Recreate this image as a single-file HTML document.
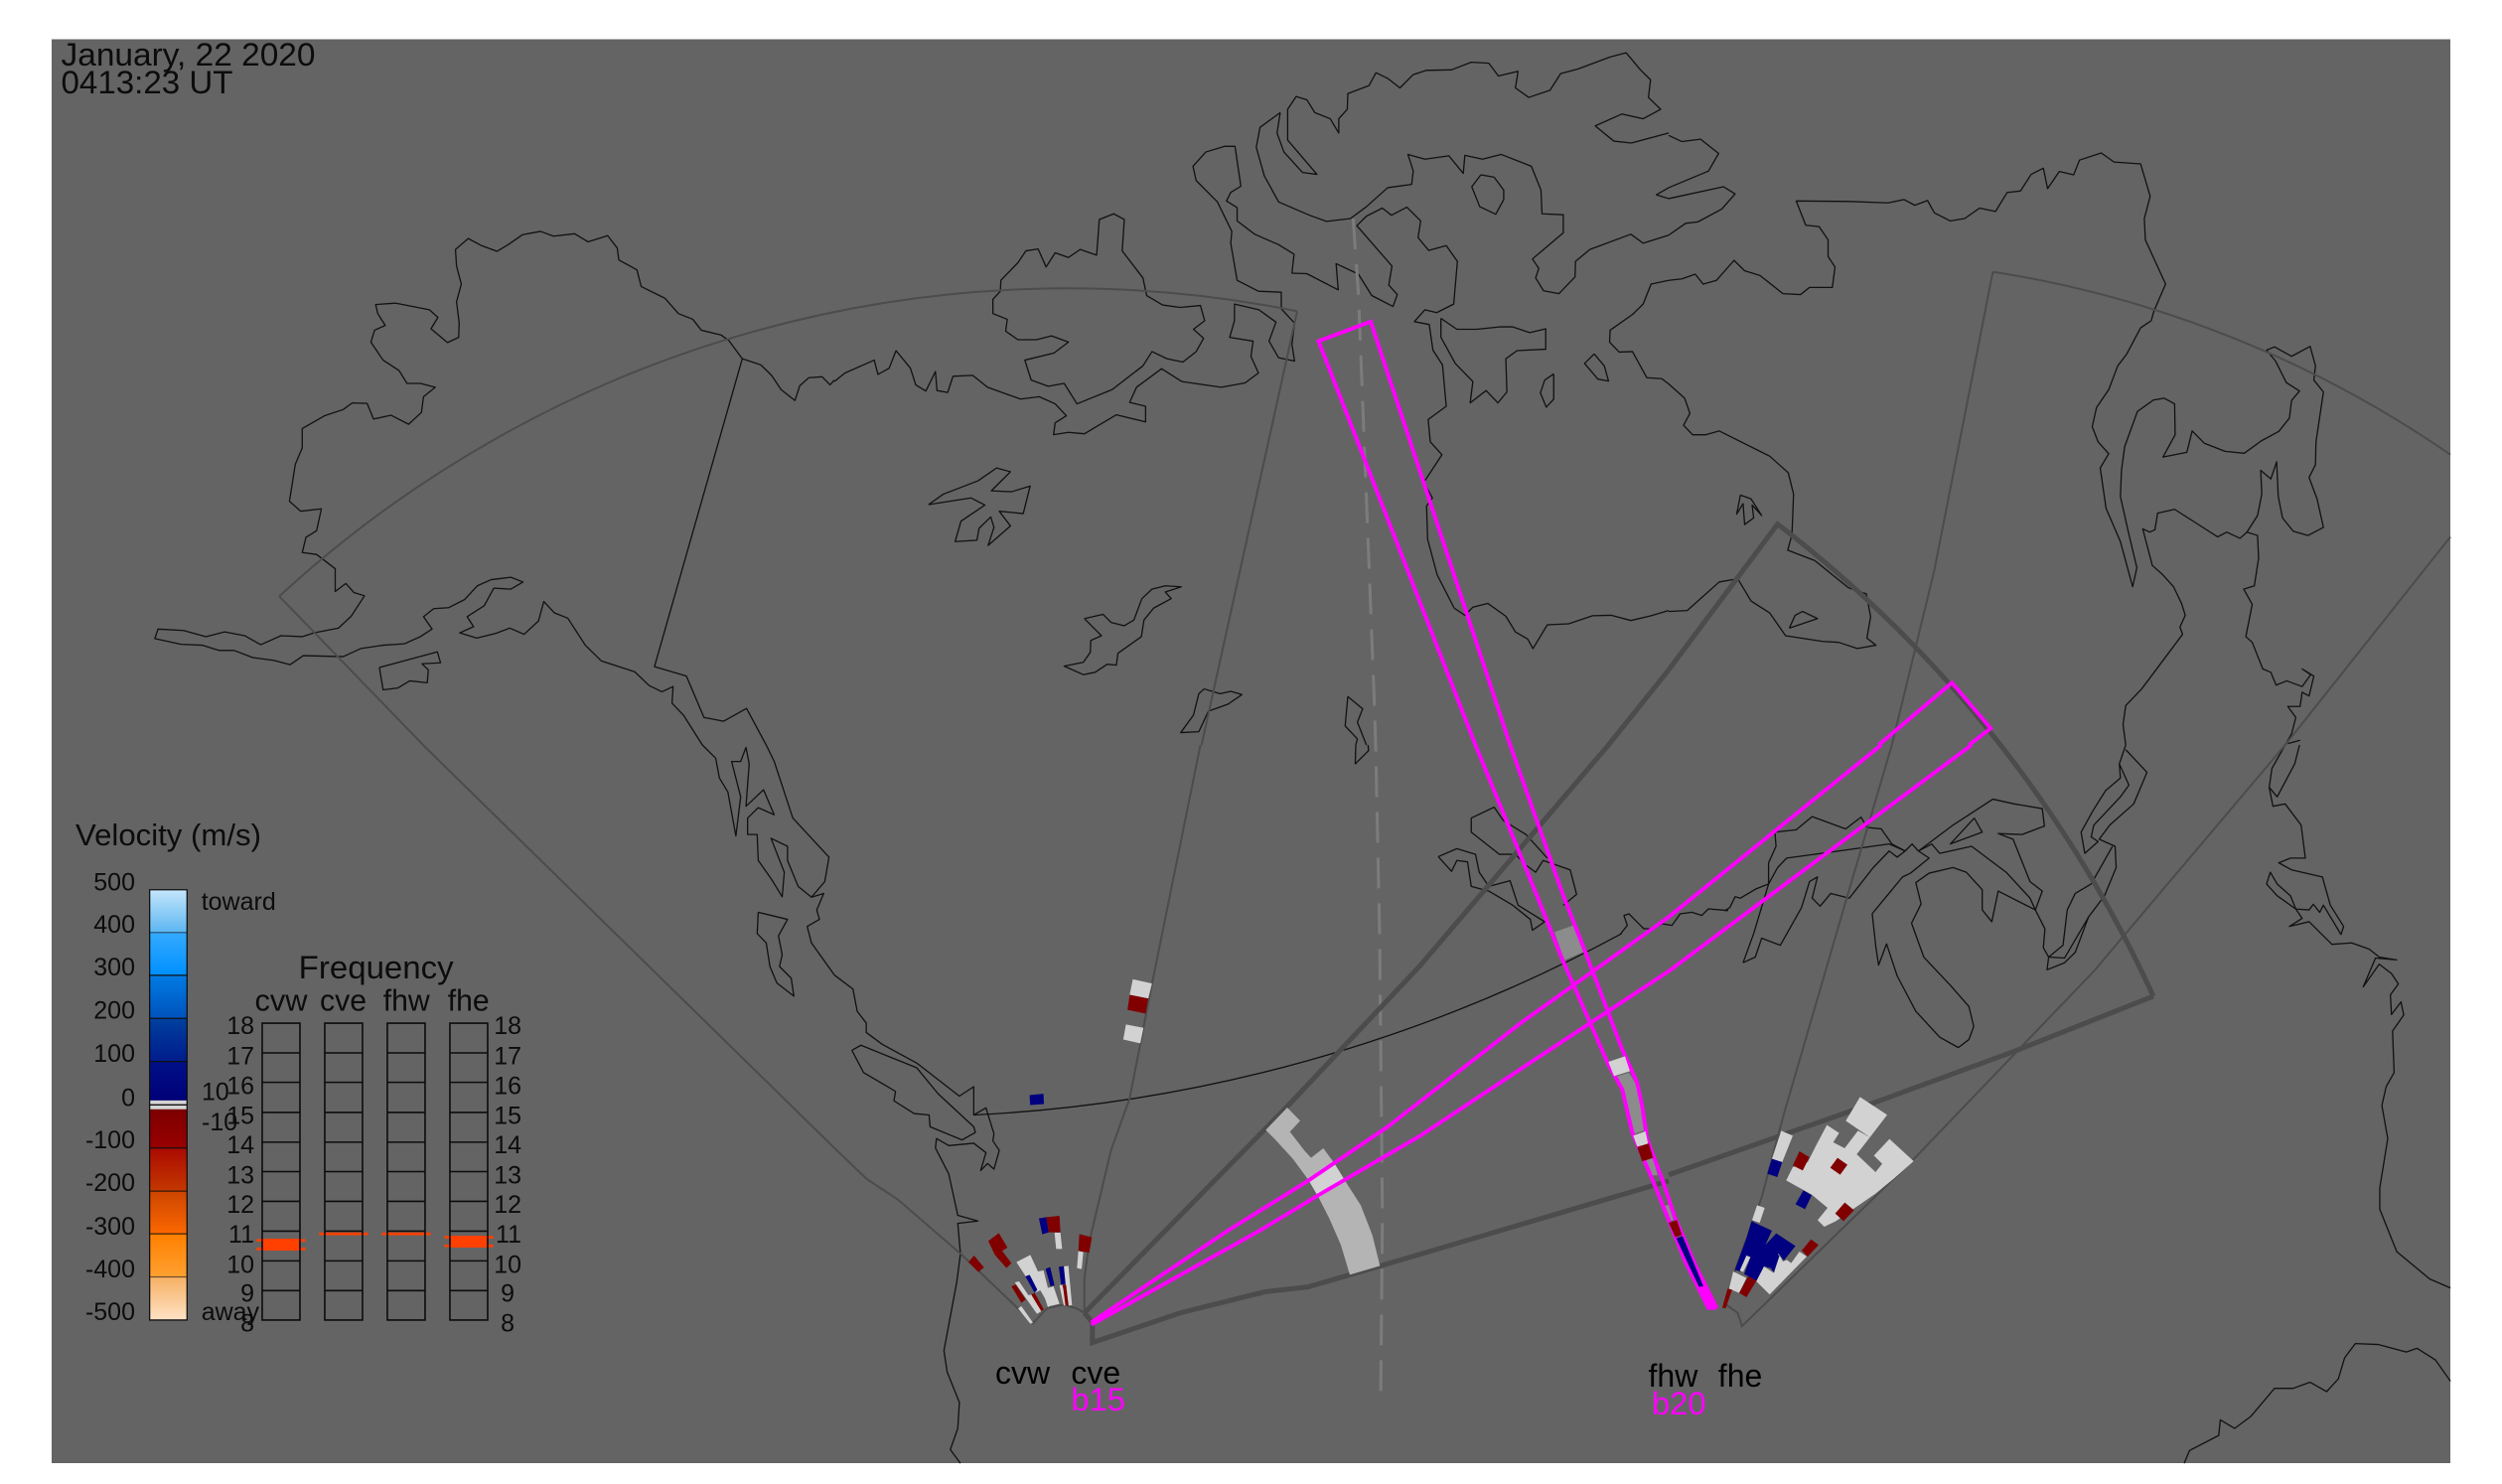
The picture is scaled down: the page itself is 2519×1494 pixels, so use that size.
<!DOCTYPE html>
<html><head><meta charset="utf-8"><title>Velocity map</title>
<style>
html,body{margin:0;padding:0;background:#fff}
svg{display:block}
polyline,polygon,path,line,rect{vector-effect:non-scaling-stroke}
.c polyline{fill:none;stroke:#111;stroke-width:1.3;stroke-linejoin:round}
.t polyline,.t path{fill:none;stroke:#4c4c4c;stroke-width:2}
.k polyline,.k path{fill:none;stroke:#4c4c4c;stroke-width:5}
.m polyline{fill:none;stroke:#ff00ff;stroke-width:3.9}
.w{fill:#d2d2d2}.r{fill:#800000}.b{fill:#000080}.g{fill:#8c8c8c}.l{fill:#b4b4b4}
text{font-family:"Liberation Sans",sans-serif;fill:#0c0c0c}
</style></head><body>
<svg xmlns="http://www.w3.org/2000/svg" width="2519" height="1494" viewBox="0 0 2519 1494">
<defs>
<linearGradient id="g1" x1="0" y1="0" x2="0" y2="1"><stop offset="0" stop-color="#c4e6fc"/><stop offset="1" stop-color="#5cb6f2"/></linearGradient>
<linearGradient id="g2" x1="0" y1="0" x2="0" y2="1"><stop offset="0" stop-color="#34aaff"/><stop offset="1" stop-color="#0090ff"/></linearGradient>
<linearGradient id="g3" x1="0" y1="0" x2="0" y2="1"><stop offset="0" stop-color="#007ce4"/><stop offset="1" stop-color="#0052bc"/></linearGradient>
<linearGradient id="g4" x1="0" y1="0" x2="0" y2="1"><stop offset="0" stop-color="#00409e"/><stop offset="1" stop-color="#001c8c"/></linearGradient>
<linearGradient id="g5" x1="0" y1="0" x2="0" y2="1"><stop offset="0" stop-color="#001088"/><stop offset="1" stop-color="#000078"/></linearGradient>
<linearGradient id="g6" x1="0" y1="0" x2="0" y2="1"><stop offset="0" stop-color="#7c0000"/><stop offset="1" stop-color="#980000"/></linearGradient>
<linearGradient id="g7" x1="0" y1="0" x2="0" y2="1"><stop offset="0" stop-color="#aa0a00"/><stop offset="1" stop-color="#c43800"/></linearGradient>
<linearGradient id="g8" x1="0" y1="0" x2="0" y2="1"><stop offset="0" stop-color="#cc4400"/><stop offset="1" stop-color="#fc6800"/></linearGradient>
<linearGradient id="g9" x1="0" y1="0" x2="0" y2="1"><stop offset="0" stop-color="#ff8000"/><stop offset="1" stop-color="#ffa030"/></linearGradient>
<linearGradient id="g10" x1="0" y1="0" x2="0" y2="1"><stop offset="0" stop-color="#f6b064"/><stop offset="1" stop-color="#ffe2c6"/></linearGradient>
</defs>
<rect width="2519" height="1494" fill="#fff"/>
<rect x="52" y="39.5" width="2415" height="1433.5" fill="#646464"/>

<!-- coastlines -->
<g class="c">
<g transform="scale(.53571,.47832)">
<polyline points="1568,800 1560,810 1545,793 1520,795 1503,812 1494,843 1468,820 1450,790 1430,768 1395,755 1370,717 1355,705 1318,695 1302,672 1275,660 1250,628 1205,603 1197,568 1163,547 1160,522 1142,496 1105,509 1080,492 1040,497 1016,487 982,494 955,515 934,529 905,517 880,502 856,525 858,560 867,598 858,635 863,680 862,710 841,721 810,692 823,668 807,652 743,638 706,641 710,660 724,685 704,695 697,720 720,758 750,780 765,807 790,807 818,815 796,835 792,868 768,893 735,874 702,882 690,849 662,848 645,862 610,875 568,902 568,943 555,977 544,1055 565,1076 604,1071 595,1117 575,1131 568,1163 595,1167 630,1197 630,1245 650,1228 665,1247 685,1254 660,1297 636,1322 590,1332 568,1340 528,1338 490,1357 460,1338 422,1330 387,1340 345,1327 297,1324 291,1344 340,1356 380,1358 412,1369 440,1369 475,1384 515,1390 545,1399 570,1380 645,1382 678,1365 720,1358 760,1355 790,1340 812,1324 796,1298 815,1281 843,1279 873,1262 897,1233 923,1220 960,1215 983,1225 960,1240 928,1238 910,1275 878,1298 890,1319 864,1332 896,1343 932,1333 958,1322 985,1335 1012,1307 1022,1266 1042,1290 1067,1301 1100,1358 1130,1391 1193,1414 1220,1443 1244,1456 1265,1445 1263,1480 1285,1506 1320,1568"/>
<polyline points="1395,755 1230,1403 1290,1423 1323,1510 1360,1518 1403,1491 1440,1568"/>
<polyline points="713,1405 822,1372 828,1395 793,1397 805,1410 803,1437 770,1433 748,1448 720,1452 713,1405"/>
</g>
<g transform="translate(840,0) scale(.53571,.47832)">
<polyline points="0,803 20,785 75,758 82,788 103,775 116,738 143,775 153,810 172,823 190,782 193,822 213,826 223,792 260,790 288,815 350,840 385,835 415,850 436,875 415,890 412,915 440,910 470,913 530,873 585,888 585,855 555,847 568,815 615,776 653,803 727,815 772,806 797,785 783,750 787,718 743,710 752,675 752,640 798,652 830,678 817,718 835,753 865,760 860,725 865,680 840,650 840,615 797,613 757,590 745,512 747,487 720,425 680,380 674,350 698,320 733,308 753,308 764,392 745,405 737,423 757,437 757,465 790,493 835,515 864,535 860,575 888,576 947,610 943,555 985,577 1010,622 1050,645 1058,620 1042,600 1048,560 982,475 1000,455 1030,438 1047,453 1076,436 1102,465 1097,500 1117,527 1150,517 1171,550 1164,640 1132,658 1110,652 1090,677 1118,683 1125,737 1143,768 1150,855 1116,883 1120,930 1142,957 1108,1015 1124,1048 1113,1065 1115,1135 1133,1210 1165,1280 1185,1295 1200,1278 1228,1270 1262,1297 1280,1330 1303,1345 1313,1365 1340,1315 1380,1313 1425,1296 1460,1295 1497,1306 1535,1296 1568,1285"/>
<polyline points="313,590 312,613 298,630 298,660 325,672 322,697 345,715 380,715 408,707 440,720 413,743 358,758 370,800 402,813 432,807 456,850 522,820 580,770 597,740 625,755 655,762 680,740 694,712 675,693 696,675 688,643 650,647 617,642 587,622 580,585 541,528 545,462 525,450 498,462 493,537 462,525 440,542 415,532 398,562 383,524 360,528 345,553 313,590"/>
<polyline points="838,237 800,268 793,310 808,370 835,425 893,453 925,466 970,460 1000,435 1040,395 1085,388 1088,360 1078,325 1110,335 1155,328 1182,365 1185,327 1218,335 1253,325 1310,350 1328,400 1330,450 1370,452 1370,490 1312,545 1324,565 1318,585 1333,612 1362,618 1392,583 1393,550 1420,525 1497,493 1520,512 1568,495"/>
<polyline points="838,237 832,280 845,320 880,363 907,367 852,295 852,230 868,203 888,210 903,237 932,250 948,280 948,250 964,230 965,197 1005,180 1018,153 1040,165 1063,185 1088,157 1113,148 1160,147 1197,131 1230,133 1248,160 1285,150 1280,185 1305,205 1345,190 1365,155 1398,145 1458,120 1488,111 1515,147 1534,168 1530,205 1553,230 1520,250 1480,240 1430,265 1465,297 1498,301 1568,280"/>
<polyline points="1568,395 1545,410 1568,418"/>
<polyline points="1215,368 1240,373 1258,400 1258,420 1243,451 1213,435 1198,393 1215,368"/>
<polyline points="1140,670 1170,693 1207,693 1250,688 1275,688 1307,700 1337,692 1337,735 1283,738 1262,755 1264,825 1247,848 1225,822 1195,848 1200,803 1167,765 1140,710 1140,670"/>
<polyline points="1428,745 1447,770 1455,802 1435,798 1410,765 1428,745"/>
<polyline points="1352,787 1352,840 1338,857 1327,827 1335,800 1352,787"/>
<polyline points="1568,590 1535,598 1520,640 1500,662 1458,695 1457,720 1475,741 1500,740 1527,795 1555,797 1568,808"/>
<polyline points="177,1062 205,1040 270,1012 305,985 331,993 295,1033 333,1035 368,1023 355,1081 310,1076 331,1107 289,1148 300,1110 294,1088 272,1112 268,1137 227,1140 238,1097 283,1063 257,1048 205,1057 177,1062"/>
<polyline points="470,1302 505,1293 520,1310 545,1317 563,1305 578,1260 597,1240 622,1233 652,1235 622,1246 633,1260 600,1280 582,1305 577,1340 533,1375 530,1400 513,1398 490,1415 468,1420 432,1402 468,1394 481,1373 482,1348 502,1338 470,1302"/>
<polyline points="695,1450 725,1460 745,1455 766,1462 740,1482 703,1497 685,1540 651,1542 675,1505 685,1460 695,1450"/>
<polyline points="965,1466 993,1492 983,1520 1000,1568"/>
<polyline points="965,1466 960,1528 983,1555 980,1568"/>
</g>
<g transform="translate(1680,0) scale(.53508,.47832)">
<polyline points="0,285 25,298 60,293 94,323 75,360 0,395"/>
<polyline points="0,418 103,393 125,408 100,440 55,467 32,470 0,495"/>
<polyline points="0,808 30,838 40,870 28,895 45,915 70,915 95,907 190,960 225,995 235,1040 232,1125 224,1158 275,1180 338,1237 372,1250 380,1298 373,1343 390,1358 355,1365 320,1352 290,1350 220,1338 190,1290 155,1265 130,1218 95,1225 35,1285 0,1287"/>
<polyline points="0,590 25,587 50,577 65,598 90,590 123,548 143,570 172,580 215,618 248,620 265,605 308,605 313,562 300,540 300,505 283,477 258,474 240,423 340,424 413,427 443,420 463,432 487,422 500,448 530,465 557,460 585,438 615,445 637,405 662,402 682,367 705,354 713,397 735,361 762,368 773,337 814,322 838,341 888,345 906,413 895,460 897,505 935,598 913,655 908,675 888,690 862,745 845,770 828,820 805,858 797,898 808,930 828,955 812,985 823,1070 850,1140 873,1235 881,1195 865,1120 850,1045 852,990 858,940 882,866 912,842 932,838 952,850 953,915 930,962 975,952 985,907 1008,933 1047,950 1083,954 1115,928 1148,908 1168,880 1172,843 1187,823 1162,805 1142,760 1125,737 1140,730 1172,750 1207,729 1217,770 1214,800 1232,825 1218,930 1217,978 1205,1005 1220,1050 1232,1110 1203,1127 1175,1118 1155,1090 1147,1045 1144,972 1133,1008 1114,990 1116,1040 1108,1085 1088,1120 1108,1127 1110,1175 1102,1233 1082,1240 1098,1272 1086,1340 1098,1352 1118,1408 1133,1415 1143,1442 1163,1433 1192,1445 1208,1420 1192,1408 1214,1423 1205,1465 1192,1457 1188,1487 1165,1487 1180,1510 1172,1545 1160,1568"/>
<polyline points="1188,1558 1165,1565"/>
<polyline points="1088,1120 1075,1133 1050,1120 1033,1130 952,1072 920,1080 915,1115 905,1120 892,1113 910,1190 930,1210 950,1235 965,1270 972,1295 962,1320 967,1335 890,1450 860,1485 855,1525 860,1568"/>
<polyline points="135,1042 155,1050 175,1085 157,1063 160,1090 143,1104 140,1060 128,1082 135,1042"/>
<polyline points="227,1322 238,1295 252,1287 280,1302 227,1322"/>
</g>
<g transform="translate(0,750) scale(.53571,.47449)">
<polyline points="1320,0 1345,28 1352,70 1368,100 1383,193 1392,110 1375,35 1392,35 1402,5 1408,40 1402,130 1435,95 1455,148 1425,133 1405,155 1405,190 1423,190 1425,245 1450,285 1470,322 1474,270 1449,198 1480,215 1480,245 1500,300 1525,323 1548,315 1535,350 1540,370 1517,385 1525,420 1568,488"/>
<polyline points="1440,0 1455,35 1490,155 1558,238 1550,290 1525,323"/>
<polyline points="1425,355 1480,370 1463,405 1470,445 1465,470 1487,495 1492,533 1460,505 1447,470 1440,420 1423,400 1425,355"/>
</g>
<g transform="translate(840,750) scale(.53571,.47449)">
<polyline points="0,488 35,518 43,565 60,590 60,610 90,635 155,675 235,745 262,725 262,785 285,770 300,825 298,840 310,860 300,900 288,888 275,903 285,865 262,845 215,850 192,835 190,855 215,910 232,998 270,1010 232,1015 237,1080 230,1140 206,1285 212,1330 235,1395 232,1450 218,1495 237,1524"/>
<polyline points="33,648 50,637 100,660 155,685 195,740 262,810 265,822 240,838 180,810 178,785 150,782 112,755 115,735 55,695 33,648"/>
<polyline points="1197,155 1197,185 1250,232 1280,232 1300,255 1318,270 1332,245 1383,265 1395,317 1370,340"/>
<polyline points="1197,155 1240,132 1257,160 1300,190 1340,240"/>
<polyline points="1135,237 1170,220 1205,232 1212,270 1230,300 1270,288 1285,340 1335,375 1312,393 1308,370 1275,340 1230,310 1197,300 1190,248 1170,245 1160,268 1135,237"/>
<polyline points="1003,0 1004,12 979,40 980,0"/>
</g>
<g transform="translate(1540,900) scale(.3333,.3333)">
<polyline points="275,120 295,95 285,65 300,60 345,105 375,105 400,90 430,95 455,60 490,55 520,65 540,45 600,50"/>
</g>
<g transform="translate(1680,750) scale(.53508,.47449)">
<polyline points="105,352 115,345 125,322 135,325 165,305 188,295 205,260 222,240 320,225 415,210 445,225 458,210 470,225 490,240 455,272 440,280 383,358 390,430 395,467 410,422 430,490 465,565 510,620 545,642 565,625 574,597 565,555 530,510 480,450 457,378 475,337 465,292 490,272 535,260 560,270 590,307 590,350 608,375 620,310 690,350"/>
<polyline points="140,462 163,450 175,410 210,425 250,345 265,290 280,280 270,325 285,342 305,315 340,325 385,260 415,225 430,238 445,225"/>
<polyline points="200,185 240,180 270,152 333,178 362,153 373,175 400,178 420,210 445,225"/>
<polyline points="200,185 202,215 188,250 188,295 160,400 140,462"/>
<polyline points="470,225 495,210 510,230 570,215 635,270 680,325 690,350 708,390 705,430 715,450 745,452 790,365"/>
<polyline points="470,225 535,170 610,115 650,125 703,135 707,172 665,190 620,188 648,200 680,290 703,310 690,350"/>
<polyline points="575,155 590,185 530,210 575,155"/>
<polyline points="860,10 900,58 875,125 830,170 810,200 840,215 842,260 820,320 790,365 765,440 745,462 712,477 715,450 742,425 750,350 765,315 795,295 835,215"/>
<polyline points="860,0 848,40 850,70 822,97 798,140 776,185 783,230 808,205 795,195 800,170 850,110 866,85 848,40"/>
<polyline points="1160,0 1135,50 1130,90 1145,110 1178,40 1187,0"/>
<polyline points="1130,90 1137,130 1160,125 1190,170 1198,240 1170,240 1148,250 1172,265 1230,280 1245,340 1270,385 1265,402 1232,340 1225,355 1213,338 1205,350 1180,348 1145,320 1125,295 1132,270 1145,295 1170,320 1180,348 1192,368 1168,385 1205,375 1248,423 1285,420 1318,433 1337,450 1370,456 1330,452 1307,513 1337,465 1360,485 1373,507 1358,530 1360,572 1378,545 1383,573 1362,607 1365,695 1350,725 1342,765 1353,835 1338,940 1338,985 1370,1075 1432,1133 1471,1152"/>
<polyline points="970,1524 980,1497 1035,1465 1038,1432 1065,1450 1095,1425 1140,1365 1175,1365 1207,1352 1238,1372 1260,1345 1272,1300 1292,1270 1335,1272 1388,1288 1408,1280 1443,1305 1471,1350"/>
</g>
<path d="M980.4,1122.5 A1529,1529 0 0 0 1632.8,939.8" fill="none" stroke="#111" stroke-width="1.3"/>
</g>

<!-- dashed centre line -->
<polyline points="1362.3,220 1367.7,296.5 1375.7,502 1383.7,708 1385,750 1389,940 1391.8,1224.5 1390,1414" fill="none" stroke="#7c7c7c" stroke-width="3" stroke-dasharray="31 15"/>

<!-- thin sectors -->
<g class="t">
<path d="M281.2,600.3 A1171,1171 0 0 1 1306,313.3"/>
<path d="M2006.4,273.6 A1113,1113 0 0 1 2467,457.7"/>
<polyline points="281.2,600.3 426,750"/>
<polyline points="1306,313.3 1209.7,750"/>
<polyline points="1904.7,750 1947.5,574 2006.4,273.6"/>
<polyline points="2467,540.5 2300.7,750"/>
<g transform="translate(0,750) scale(.53571,.47449)"><polyline points="795,0 1568,855"/></g>
<g transform="translate(840,750) scale(.53571,.47449)"><polyline points="688,0 600,490 555,750 520,860 480,1050 470,1130 470,1205"/><polyline points="0,855 60,920 120,965 238,1080 340,1190 373,1227 400,1195 430,1188 455,1195 470,1205"/></g>
<g transform="translate(1680,750) scale(.53508,.47449)"><polyline points="420,0 335,325 215,790 175,960 120,1130 105,1185 130,1205 138,1233 460,880 800,480 1160,0"/></g>
</g>
<!-- thick sector -->
<g class="k">
<path d="M2168,1003 A1261,1261 0 0 0 1789.7,527.6 L1680,674.4 1619.4,750 1429,973 1295,1115 1091.8,1321.8"/>
<g transform="translate(840,750) scale(.53571,.47449)"><polyline points="470,1205 485,1225 485,1268 650,1205 810,1160 890,1150 1027,1105 1568,925"/></g>
<g transform="translate(1680,750) scale(.53508,.47449)"><polyline points="912,533 650,650 360,770 0,912"/></g>
</g>

<!-- data cells -->
<g transform="translate(840,750) scale(.53571,.47449)">
<polygon class="w" points="561,497 597,506 590,538 555,530"/>
<polygon class="r" points="555,530 590,538 585,570 551,562"/>
<polygon class="w" points="548,593 581,600 575,633 543,625"/>
<polygon class="b" points="367,743 393,740 394,762 368,764"/>
</g>
<g transform="translate(1250,1100) scale(.3333,.3333)">
<polygon class="l" points="73,113 138,45 177,85 146,118 190,175 210,197 247,168 280,213 310,262 360,340 395,430 418,523 327,550 300,460 265,380 232,315 203,265 155,200 100,140"/>
<polygon class="w" points="203,265 280,213 310,262 232,315"/>
</g>
<g transform="translate(1540,900) scale(.3333,.3333)">
<polygon fill="#ff00ff" points="470,1110 500,1120 565,1250 540,1250"/>
<polygon class="g" points="75,115 132,95 163,175 105,200"/>
<polygon class="g" points="265,550 300,540 325,580 335,640 345,715 315,725 295,640 280,590"/>
<polygon class="g" points="350,805 372,797 387,850 368,850"/>
<polygon class="g" points="407,943 420,938 435,985 422,988"/>
</g>
<g transform="translate(1700,1090) scale(.3333,.3333)">
<polygon class="w" points="518,43 600,97 548,165 475,115"/>
<polygon class="w" points="512,145 548,165 505,220 470,200"/>
<polygon class="w" points="418,128 455,152 437,180 510,218 565,270 585,245 560,220 607,170 680,237 620,290 565,335 500,380 445,418 410,435 390,415 420,378 372,338 295,295 315,255 360,240 385,190"/>
<polygon class="r" points="335,207 365,225 345,265 315,250"/>
<polygon class="r" points="450,227 480,248 458,278 428,257"/>
<polygon class="r" points="472,362 500,385 468,418 443,395"/>
<polygon class="r" points="370,473 393,490 360,525 342,507"/>
<polygon class="b" points="347,325 372,340 352,382 323,367"/>
<polygon class="w" points="280,145 315,160 283,240 252,230"/>
<polygon class="b" points="252,230 283,240 268,285 238,275"/>
<polygon class="w" points="207,370 230,378 215,423 192,415"/>
<polygon class="b" points="190,418 252,447 232,490 265,455 323,493 288,537 272,516 248,560 228,555 205,598 168,578 187,527 175,522 155,570 140,565 175,470"/>
<polygon class="w" points="135,570 175,590 153,635 122,622"/>
<polygon class="w" points="175,522 187,527 165,572 155,567"/>
<polygon class="r" points="180,585 205,598 175,648 153,635"/>
<polygon class="w" points="205,600 228,555 258,575 272,516 285,540 297,535 310,545 335,510 357,525 245,640"/>
<polygon class="b" points="262,515 275,522 258,573 248,560"/>
<polygon class="r" points="118,622 132,625 112,682 102,680"/>
</g>
<g transform="translate(960,1200) scale(.3333,.3333)">
<polygon class="r" points="45,212 62,192 92,228 75,242"/>
<polygon class="r" points="105,148 137,124 163,168 147,178 175,215 160,230 125,190"/>
<polygon class="b" points="258,80 280,76 288,122 268,128"/>
<polygon class="r" points="280,76 320,72 323,122 288,122"/>
<polygon class="w" points="305,123 323,123 328,172 310,172"/>
<polygon class="r" points="380,127 418,137 410,183 377,178"/>
<polygon class="w" points="377,178 392,182 387,233 373,230"/>
<polygon class="w" points="190,212 232,190 255,240 272,237 285,290 302,285 320,338 290,345 262,297 245,305 215,250"/>
<polygon class="w" points="185,273 198,270 225,310 265,355 252,368 218,320"/>
<polygon class="r" points="175,285 188,280 218,325 205,335"/>
<polygon class="b" points="217,255 230,250 253,295 245,305"/>
<polygon class="b" points="278,232 292,227 305,282 293,285"/>
<polygon class="w" points="320,282 328,280 345,342 333,343"/>
<polygon class="w" points="333,225 347,223 358,342 348,343 340,290"/>
<polygon class="b" points="318,226 333,224 338,278 325,280"/>
<polygon class="r" points="330,280 340,280 347,342 338,343"/>
<polygon class="w" points="205,345 240,395 232,398 195,352"/>
<polygon class="w" points="225,312 235,310 265,360 253,368"/>
<polygon class="r" points="235,310 245,305 273,355 265,360"/>
<polygon class="w" points="268,295 275,293 290,345 285,348"/>
</g>

<!-- magenta beams -->
<g class="m">
<polyline points="1728.3,1316.7 1720,1316.7 1696.7,1270 1680,1228.3 1663.3,1186.7 1643.3,1140 1633.3,1096.7 1620,1073.3 1573.3,966.7 1546.7,900 1485.5,750 1327.5,343.4 1380,323.8 1520.4,750 1573.3,900 1596.7,960 1633.3,1056.7 1648.3,1090 1653.3,1113.3 1658.3,1146.7 1673.3,1186.7 1686.7,1226.7 1706.7,1273.3 1728.3,1316.7"/>
<g transform="translate(840,750) scale(.53571,.47449)">
<polyline points="483,1225 740,1030 890,925 1040,810 1290,590 1568,365"/>
<polyline points="483,1230 800,1030 910,955 1100,830 1300,680 1568,480"/>
</g>
<g transform="translate(1680,750) scale(.53508,.47449)"><polyline points="0,365 400,0"/><polyline points="0,480 570,0"/></g>
<g transform="translate(1680,0) scale(.53508,.47832)"><polyline points="395,1568 533,1437 606,1533 565,1568"/></g>
</g>
<g transform="translate(1540,900) scale(.3333,.3333)">
<polygon class="w" points="238,507 288,490 303,535 255,550"/>
<polygon class="w" points="313,730 350,717 358,755 325,763"/>
<polygon class="r" points="325,765 360,753 373,797 340,808"/>
<polygon class="r" points="420,993 445,985 460,1030 440,1037"/>
<polygon class="b" points="443,1040 462,1033 525,1185 512,1187 480,1120"/>
</g>

<!-- colour bar -->
<g transform="translate(60,820) scale(.3333,.34435)">
<rect x="272" y="220" width="113" height="125" fill="url(#g1)"/>
<rect x="272" y="345" width="113" height="125" fill="url(#g2)"/>
<rect x="272" y="470" width="113" height="126" fill="url(#g3)"/>
<rect x="272" y="596" width="113" height="126" fill="url(#g4)"/>
<rect x="272" y="722" width="113" height="114" fill="url(#g5)"/>
<rect x="272" y="836" width="113" height="26" fill="#d4d4d4"/>
<rect x="272" y="862" width="113" height="113" fill="url(#g6)"/>
<rect x="272" y="975" width="113" height="126" fill="url(#g7)"/>
<rect x="272" y="1101" width="113" height="125" fill="url(#g8)"/>
<rect x="272" y="1226" width="113" height="126" fill="url(#g9)"/>
<rect x="272" y="1352" width="113" height="126" fill="url(#g10)"/>
<g stroke="#111" fill="none">
<rect x="272" y="220" width="113" height="1258" stroke-width="1.3"/>
<line x1="272" x2="385" y1="345" y2="345" stroke-width="1.2" opacity=".6"/>
<line x1="272" x2="385" y1="470" y2="470" stroke-width="1.2"/>
<line x1="272" x2="385" y1="596" y2="596" stroke-width="1.2"/>
<line x1="272" x2="385" y1="722" y2="722" stroke-width="1.2"/>
<line x1="272" x2="385" y1="849" y2="849" stroke-width="1.4"/>
<line x1="272" x2="385" y1="975" y2="975" stroke-width="1.2"/>
<line x1="272" x2="385" y1="1101" y2="1101" stroke-width="1"/>
<line x1="272" x2="385" y1="1226" y2="1226" stroke-width="1"/>
<line x1="272" x2="385" y1="1352" y2="1352" stroke-width="1.2" opacity=".6"/>
</g>
<!-- frequency columns -->
<g fill="#ff4000">
<rect x="612" y="1240" width="114" height="35"/><rect x="595" y="1241" width="148" height="8"/><rect x="595" y="1266" width="148" height="8"/>
<rect x="784" y="1222" width="148" height="8"/>
<rect x="973" y="1222" width="148" height="8"/>
<rect x="1179" y="1232" width="114" height="34"/><rect x="1162" y="1232" width="148" height="8"/><rect x="1162" y="1257" width="148" height="8"/>
</g>
<g id="bars" stroke="#0c0c0c" stroke-width="1.6" fill="none">
<path d="M612 610h114v868h-114zM612 697h114M612 783h114M612 871h114M612 958h114M612 1044h114M612 1131h114M612 1218h114M612 1305h114M612 1392h114"/>
<path d="M801 610h114v868h-114zM801 697h114M801 783h114M801 871h114M801 958h114M801 1044h114M801 1131h114M801 1218h114M801 1305h114M801 1392h114"/>
<path d="M990 610h114v868h-114zM990 697h114M990 783h114M990 871h114M990 958h114M990 1044h114M990 1131h114M990 1218h114M990 1305h114M990 1392h114"/>
<path d="M1179 610h114v868h-114zM1179 697h114M1179 783h114M1179 871h114M1179 958h114M1179 1044h114M1179 1131h114M1179 1218h114M1179 1305h114M1179 1392h114"/>
</g>
</g>

<!-- text -->
<text x="61.5" y="66" font-size="32" textLength="256" lengthAdjust="spacingAndGlyphs">January, 22 2020</text>
<text x="61.5" y="94" font-size="32" textLength="173" lengthAdjust="spacingAndGlyphs">0413:23 UT</text>
<text x="76" y="851" font-size="31" textLength="187" lengthAdjust="spacingAndGlyphs">Velocity (m/s)</text>
<g font-size="25" text-anchor="end">
<text x="136" y="896.4">500</text>
<text x="136" y="939">400</text>
<text x="136" y="982">300</text>
<text x="136" y="1025.5">200</text>
<text x="136" y="1069">100</text>
<text x="136" y="1113.4">0</text>
<text x="136" y="1156">-100</text>
<text x="136" y="1199">-200</text>
<text x="136" y="1243">-300</text>
<text x="136" y="1286">-400</text>
<text x="136" y="1329">-500</text>
</g>
<text x="202.7" y="916" font-size="25">toward</text>
<text x="202.7" y="1329" font-size="25">away</text>
<text x="203" y="1107.5" font-size="25">10</text>
<text x="203" y="1138" font-size="25">-10</text>
<text x="300.7" y="985" font-size="32.5" textLength="156" lengthAdjust="spacingAndGlyphs">Frequency</text>
<text x="256.5" y="1017.3" font-size="31" textLength="53" lengthAdjust="spacingAndGlyphs">cvw</text>
<text x="322" y="1017.3" font-size="31" textLength="47" lengthAdjust="spacingAndGlyphs">cve</text>
<text x="385.7" y="1017.3" font-size="31" textLength="47" lengthAdjust="spacingAndGlyphs">fhw</text>
<text x="450.7" y="1017.3" font-size="31" textLength="42" lengthAdjust="spacingAndGlyphs">fhe</text>
<g font-size="25" text-anchor="end">
<text x="256" y="1041">18</text><text x="256" y="1071.4">17</text><text x="256" y="1101.7">16</text><text x="256" y="1131.3">15</text><text x="256" y="1161">14</text><text x="256" y="1191.3">13</text><text x="256" y="1221.2">12</text><text x="256" y="1251.1">11</text><text x="256" y="1281.4">10</text><text x="256" y="1310.7">9</text><text x="256" y="1340.7">8</text>
<text x="525" y="1041">18</text><text x="525" y="1071.4">17</text><text x="525" y="1101.7">16</text><text x="525" y="1131.3">15</text><text x="525" y="1161">14</text><text x="525" y="1191.3">13</text><text x="525" y="1221.2">12</text><text x="525" y="1251.1">11</text><text x="525" y="1281.4">10</text><text x="518" y="1310.7">9</text><text x="518" y="1340.7">8</text>
</g>
<g font-size="32">
<text x="1002" y="1393" style="fill:#000">cvw</text>
<text x="1078.4" y="1393" style="fill:#000">cve</text>
<text x="1659.5" y="1396" style="fill:#000">fhw</text>
<text x="1729.8" y="1396" style="fill:#000">fhe</text>
</g>
<text x="1078.4" y="1420" font-size="32.7" style="fill:#ff00ff">b15</text>
<text x="1663" y="1424" font-size="32.7" style="fill:#ff00ff">b20</text>
</svg>
</body></html>
